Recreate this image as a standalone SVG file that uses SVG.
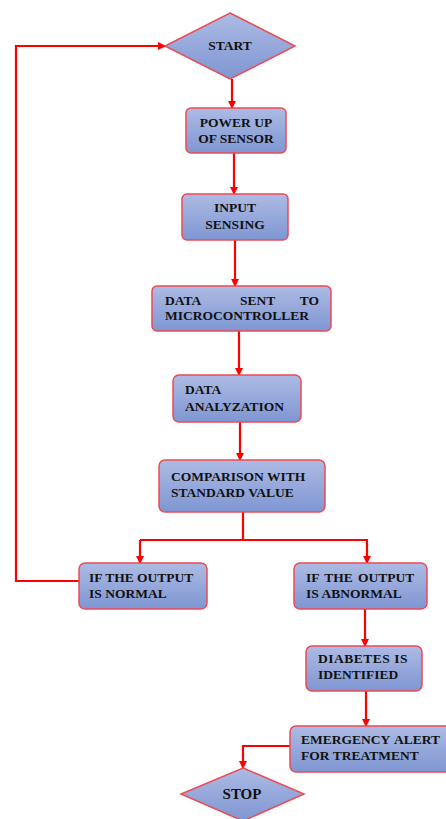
<svg xmlns="http://www.w3.org/2000/svg" width="446" height="819" viewBox="0 0 446 819">
<defs>
<linearGradient id="g" x1="0" y1="0" x2="0" y2="1">
<stop offset="0" stop-color="#adbbe4"/>
<stop offset="1" stop-color="#7f96d2"/>
</linearGradient>
<marker id="ah" markerWidth="8" markerHeight="8" refX="7" refY="4" orient="auto" markerUnits="userSpaceOnUse">
<path d="M0,0 L8,4 L0,8 Z" fill="#ff0000"/>
</marker>
<style>
.n{fill:url(#g);stroke:#ec4a55;stroke-width:1.5}
.t{font-family:"Liberation Serif","Times New Roman",serif;font-weight:bold;font-size:13.5px;fill:#111}
.c{text-anchor:middle}
.e{fill:none;stroke:#ff0000;stroke-width:2.2;marker-end:url(#ah)}
.l{fill:none;stroke:#ff0000;stroke-width:2.2}
</style>
</defs>
<g id="connectors">
<path class="e" d="M232,79 V108"/>
<path class="e" d="M234,153 V194"/>
<path class="e" d="M235,240 V286"/>
<path class="e" d="M239,331 V375"/>
<path class="e" d="M240,422 V460"/>
<path class="l" d="M243,512 V540"/>
<path class="e" d="M140,540 H367 V563"/>
<path class="e" d="M140,540 V563"/>
<path class="e" d="M79,581 H16 V46 H165"/>
<path class="e" d="M365,609 V646"/>
<path class="e" d="M366,691 V726"/>
<path class="e" d="M290,746 H243 V768"/>
</g>
<g id="start">
<polygon class="n" points="230,13 295,46 230,79 165,46"/>
<text class="t c" x="230" y="50">START</text>
</g>
<g id="power">
<rect class="n" x="186" y="108" width="100" height="45" rx="5"/>
<text class="t c" x="236" y="127">POWER UP</text>
<text class="t c" x="236" y="143">OF SENSOR</text>
</g>
<g id="input">
<rect class="n" x="182" y="194" width="106" height="46" rx="5"/>
<text class="t c" x="235" y="212">INPUT</text>
<text class="t c" x="235" y="229">SENSING</text>
</g>
<g id="datasent">
<rect class="n" x="152" y="286" width="179" height="45" rx="5"/>
<text class="t" x="165" y="305">DATA</text>
<text class="t" x="240" y="305">SENT</text>
<text class="t" x="319" y="305" text-anchor="end">TO</text>
<text class="t" x="165" y="320">MICROCONTROLLER</text>
</g>
<g id="analyze">
<rect class="n" x="173" y="375" width="128" height="47" rx="6"/>
<text class="t" x="185" y="394">DATA</text>
<text class="t" x="185" y="411">ANALYZATION</text>
</g>
<g id="compare">
<rect class="n" x="159" y="460" width="166" height="52" rx="6"/>
<text class="t" x="171" y="481">COMPARISON WITH</text>
<text class="t" x="171" y="497">STANDARD VALUE</text>
</g>
<g id="normal">
<rect class="n" x="79" y="563" width="128" height="46" rx="6"/>
<text class="t" x="89" y="582">IF THE OUTPUT</text>
<text class="t" x="89" y="598">IS NORMAL</text>
</g>
<g id="abnormal">
<rect class="n" x="294" y="563" width="133" height="46" rx="6"/>
<text class="t" x="306" y="582" word-spacing="2">IF THE OUTPUT</text>
<text class="t" x="306" y="598">IS ABNORMAL</text>
</g>
<g id="diabetes">
<rect class="n" x="306" y="646" width="116" height="45" rx="6"/>
<text class="t" x="318" y="663" letter-spacing="0.5">DIABETES IS</text>
<text class="t" x="318" y="679">IDENTIFIED</text>
</g>
<g id="emergency">
<rect class="n" x="290" y="726" width="162" height="46" rx="6"/>
<text class="t" x="301" y="744" word-spacing="1.5">EMERGENCY ALERT</text>
<text class="t" x="301" y="760">FOR TREATMENT</text>
</g>
<g id="stop">
<polygon class="n" points="243,768 304,794 243,821 181,794"/>
<text class="t c" x="242" y="799" style="font-size:15px">STOP</text>
</g>
</svg>
